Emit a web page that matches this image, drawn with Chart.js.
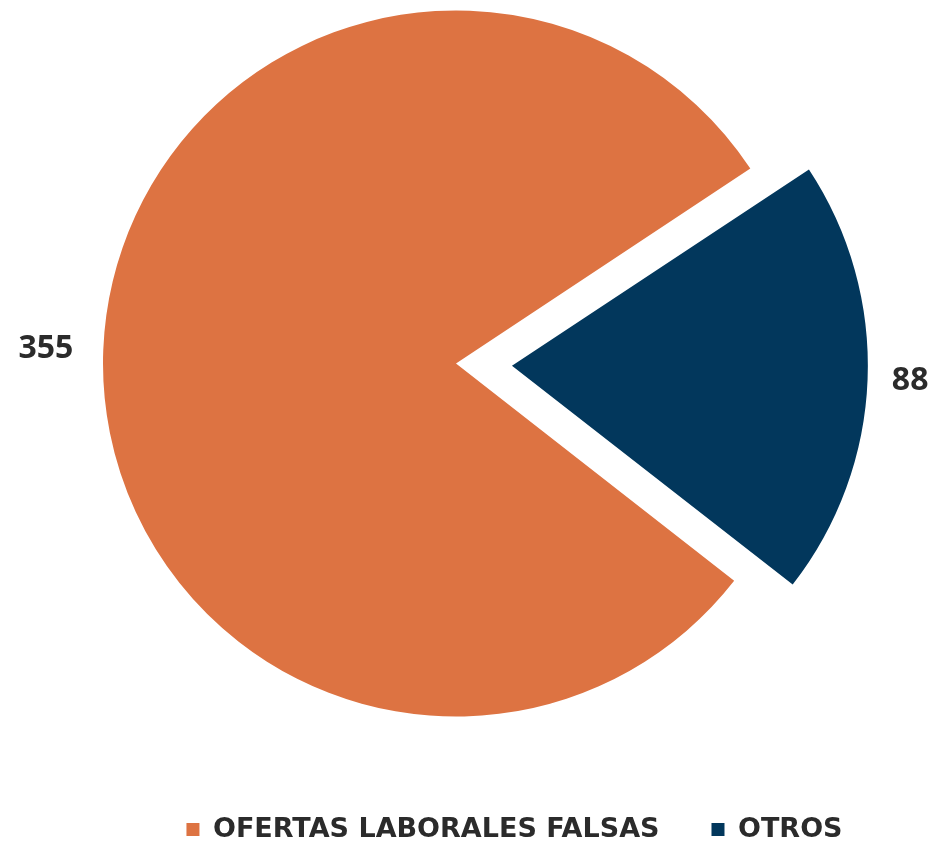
<!DOCTYPE html>
<html>
<head>
<meta charset="utf-8">
<script src="https://cdn.jsdelivr.net/npm/chart.js@4"></script>
<style>
  html, body { margin: 0; padding: 0; background: #ffffff; }
  #wrap { width: 933px; height: 846px; }
</style>
</head>
<body>
<div id="wrap"><canvas id="c" width="933" height="846"></canvas></div>
<script>
// ---- data ----
const categories = ['OFERTAS LABORALES FALSAS', 'OTROS'];
const values = [355, 88];
const sliceColors = ['#DD7342', '#02375C'];
const sliceOffsets = [0, 224];

// ---- layout constants ----
const PIE_RADIUS = 353;
const PIE_ROTATION = 128;
const LABEL_GAP = 30;
const LEGEND_DX = 58.5;
const LEGEND_DY = 37;
const TEXT_COLOR = '#2b2b2b';

const valueLabels = {
  id: 'valueLabels',
  afterDatasetsDraw(chart) {
    const ctx = chart.ctx;
    const meta = chart.getDatasetMeta(0);
    meta.data.forEach((arc, i) => {
      const p = arc.getProps(['x', 'y', 'startAngle', 'endAngle', 'outerRadius'], true);
      const mid = (p.startAngle + p.endAngle) / 2;
      const off = (arc.options.offset || 0) / 4;
      const r = off + p.outerRadius + LABEL_GAP - off * 0.05;
      const cx = p.x + Math.cos(mid) * r;
      const cy = p.y + Math.sin(mid) * r;
      ctx.save();
      ctx.font = 'bold 32px "Open Sans"';
      ctx.fillStyle = TEXT_COLOR;
      ctx.textAlign = Math.cos(mid) < 0 ? 'right' : 'left';
      ctx.textBaseline = 'middle';
      ctx.fillText(String(chart.data.datasets[0].data[i]), cx, cy);
      ctx.restore();
    });
  }
};

const legendShift = {
  id: 'legendShift',
  afterLayout(chart) {
    const lg = chart.legend;
    if (!lg) return;
    lg.left += LEGEND_DX; lg.right += LEGEND_DX;
    lg.top += LEGEND_DY; lg.bottom += LEGEND_DY;
  }
};

new Chart(document.getElementById('c'), {
  type: 'pie',
  data: {
    labels: categories,
    datasets: [{
      data: values,
      backgroundColor: sliceColors,
      borderWidth: 0,
      offset: sliceOffsets,
      hoverOffset: 0,
      radius: PIE_RADIUS,
      rotation: PIE_ROTATION
    }]
  },
  options: {
    responsive: false,
    animation: false,
    events: [],
    layout: { padding: { top: 0, left: 0, right: 21, bottom: 30 } },
    plugins: {
      tooltip: { enabled: false },
      legend: {
        position: 'bottom',
        align: 'center',
        labels: {
          color: TEXT_COLOR,
          font: { family: 'DejaVu Sans', size: 27, weight: 'bold' },
          boxWidth: 13,
          boxHeight: 13,
          padding: 52
        }
      }
    }
  },
  plugins: [valueLabels, legendShift]
});
</script>
</body>
</html>
